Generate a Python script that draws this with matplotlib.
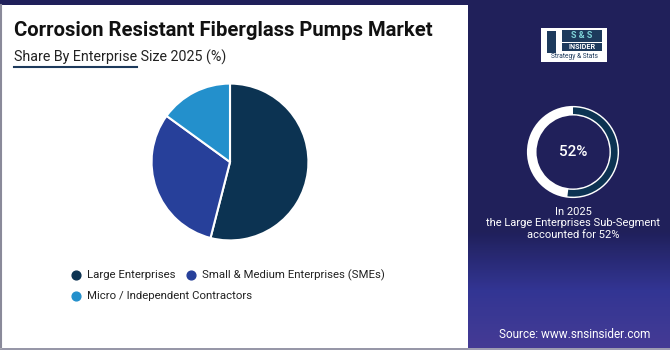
import numpy as np
import matplotlib
matplotlib.use("Agg")
import matplotlib.pyplot as plt
from matplotlib.patches import Rectangle, Wedge
from matplotlib.colors import LinearSegmentedColormap

# data
categories = ["Large Enterprises", "Small & Medium Enterprises (SMEs)", "Micro / Independent Contractors"]
shares = [54, 31, 15]
colors = ["#0c3352", "#27409a", "#2390cc"]
highlight_value = 52

title = "Corrosion Resistant Fiberglass Pumps Market"
subtitle = "Share By Enterprise Size 2025 (%)"
note_lines = ["In 2025", "the Large Enterprises Sub-Segment", "accounted for 52%"]
source = "Source: www.snsinsider.com"

navy = "#20205a"
plt.rcParams['font.family'] = ['Roboto', 'DejaVu Sans']

W, H = 670, 350
fig = plt.figure(figsize=(W / 100, H / 100), dpi=100, facecolor=navy)

# background axes in pixel coordinates
bg = fig.add_axes([0, 0, 1, 1])
bg.set_xlim(0, W)
bg.set_ylim(H, 0)
bg.axis("off")

# soft gradient at bottom of the right panel
grad = np.linspace(0, 1, 120)[:, None] * np.ones((1, 200))
cmap = LinearSegmentedColormap.from_list("g", [navy, "#35389a", "#4a3f9c"])
bg.imshow(grad, extent=(468, W, 350, 230), cmap=cmap, aspect="auto", zorder=0, alpha=0.9)

# white panel
bg.add_patch(Rectangle((0, 5), 468, 343, facecolor="white", edgecolor="none", zorder=1))
bg.plot([1, 1], [5, 348], color="#8a8a9a", lw=1.5, zorder=2)
bg.plot([0, W], [349, 349], color="#b0b0b8", lw=1.2, zorder=2)

# titles
bg.text(14, 31, title, fontsize=14.6, fontweight="bold", color="#111111", va="center", ha="left", zorder=3)
bg.text(14, 57, subtitle, fontsize=10.3, color="#222222", va="center", ha="left", zorder=3)
bg.plot([14, 137], [67, 67], color="#1d3a5c", lw=1.5, zorder=3)

# legend
legend_pos = [(76, 275), (191, 275), (76, 296)]
for (x, y), lab, c in zip(legend_pos, categories, colors):
    bg.scatter([x], [y], s=40, color=c, zorder=3)
    bg.text(x + 11, y, lab, fontsize=8.2, color="#222222", va="center", ha="left", zorder=3)

# logo
bg.add_patch(Rectangle((541, 28), 66, 34, facecolor="white", edgecolor="none", zorder=3))
bg.add_patch(Rectangle((547, 31), 9, 22, facecolor="#1d3a5c", edgecolor="none", zorder=4))
bg.add_patch(Rectangle((562, 30), 40, 12, facecolor="#1d3a5c", edgecolor="none", zorder=4))
bg.text(582, 36, "S & S", fontsize=6.5, fontweight="bold", color="#7fd3d8", ha="center", va="center", zorder=5)
bg.add_patch(Rectangle((562, 43), 40, 8, facecolor="#1d3a5c", edgecolor="none", zorder=4))
bg.text(582, 47, "INSIDER", fontsize=5.2, fontweight="bold", color="white", ha="center", va="center", zorder=5)
bg.text(574, 57, "Strategy & Stats", fontsize=4.8, color="#1d3a5c", ha="center", va="center", zorder=4)

# right panel text
for i, line in enumerate(note_lines):
    bg.text(573, 212 + i * 11.5, line, fontsize=8, color="white", ha="center", va="center", zorder=3)
bg.text(575, 334, source, fontsize=8.5, color="white", ha="center", va="center", zorder=3)

# pie
pax = fig.add_axes([150 / W, 108 / H, 160 / W, 160 / H])
pax.pie(shares, colors=colors, startangle=90, counterclock=False,
        wedgeprops=dict(edgecolor="white", linewidth=1.5))
pax.set_xlim(-1.02, 1.02)
pax.set_ylim(-1.02, 1.02)
pax.set_aspect("equal")
pax.axis("off")

# donut highlight
dax = fig.add_axes([525 / W, (350 - 200) / H, 96 / W, 96 / H])
dax.set_xlim(-1, 1)
dax.set_ylim(-1, 1)
dax.set_aspect("equal")
dax.axis("off")
dax.add_patch(Wedge((0, 0), 0.96, 0, 360, width=0.2, facecolor="white", edgecolor="none"))
end = 90 - 360 * highlight_value / 100
dax.add_patch(Wedge((0, 0), 0.93, end, 90, width=0.14, facecolor="#0c3352", edgecolor="none"))
dax.text(0, 0, f"{highlight_value}%", fontsize=11, fontweight="medium", color="white", ha="center", va="center")

fig.savefig("out.png", dpi=100, facecolor=navy)
